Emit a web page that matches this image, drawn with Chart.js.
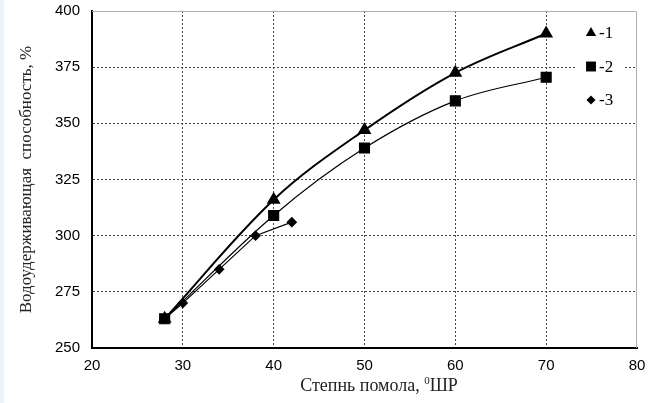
<!DOCTYPE html>
<html>
<head>
<meta charset="utf-8">
<script src="https://cdn.jsdelivr.net/npm/chart.js@4"></script>
<style>
  html, body { margin: 0; padding: 0; background: #fff; }
  canvas { display: block; background: linear-gradient(to right, #eef4fb 4px, #fff 4px); }
</style>
</head>
<body>
<canvas id="c" width="650" height="403"></canvas>
<script>
// степень помола, °ШР
const x1 = [28, 40, 50, 60, 70];
const y1 = [263, 316, 347, 372.5, 390];
const x2 = [28, 40, 50, 60, 70];
const y2 = [263, 309, 339, 360, 370.5];
const x3 = [28, 30, 34, 38, 42];
const y3 = [263, 270, 285, 300, 306];
const legendLabels = ["-1", "-2", "-3"];

const SERIF = "'Liberation Serif', 'Times New Roman', serif";
const SANS = "'Liberation Sans', Arial, sans-serif";

const pts = (xs, ys) => xs.map((x, i) => ({ x, y: ys[i] }));

// рамка сверху/справа, подпись оси X и легенда внутри области графика
const framePlugin = {
  id: "frame",
  beforeDatasetsDraw(chart) {
    const { ctx, chartArea: a } = chart;
    ctx.save();
    ctx.strokeStyle = "#b0b0b0";
    ctx.lineWidth = 1;
    ctx.beginPath();
    ctx.moveTo(a.left, a.top + 0.5);
    ctx.lineTo(a.right - 0.5, a.top + 0.5);
    ctx.lineTo(a.right - 0.5, a.bottom);
    ctx.stroke();
    // фон легенды
    ctx.fillStyle = "#fff";
    ctx.fillRect(a.right - 62, a.top + 8, 50, 104);
    ctx.restore();
  },
  afterDraw(chart) {
    const { ctx, chartArea: a } = chart;
    ctx.save();
    ctx.font = "17px " + SERIF;
    ctx.fillStyle = "#000";
    ctx.textBaseline = "middle";
    chart.data.datasets.forEach((ds, i) => {
      const y = a.top + 22 + i * 33.5;
      const x = a.right - 46;
      Chart.helpers.drawPoint(ctx, {
        pointStyle: ds.pointStyle, radius: ds.pointRadius, borderWidth: 0,
      }, x, y);
      ctx.fillText(legendLabels[i], x + 8, y + 1);
    });

    // Степнь помола, ⁰ШР
    const parts = ["Степнь помола, ", "0", "ШР"];
    const big = "18px " + SERIF, small = "11px " + SERIF;
    ctx.font = big; const w0 = ctx.measureText(parts[0]).width;
    const w2 = ctx.measureText(parts[2]).width;
    ctx.font = small; const w1 = ctx.measureText(parts[1]).width;
    let x = 379 - (w0 + w1 + w2) / 2;
    const yb = 391;
    ctx.textBaseline = "alphabetic";
    ctx.fillStyle = "#222";
    ctx.font = big; ctx.fillText(parts[0], x, yb); x += w0;
    ctx.font = small; ctx.fillText(parts[1], x, yb - 7); x += w1;
    ctx.font = big; ctx.fillText(parts[2], x, yb);
    ctx.restore();
  },
};

new Chart(document.getElementById("c"), {
  type: "line",
  data: {
    datasets: [
      {
        data: pts(x1, y1), pointStyle: "triangle", pointRadius: 6,
        borderColor: "#000", backgroundColor: "#000", borderWidth: 2,
        tension: 0.35, order: 3,
      },
      {
        data: pts(x2, y2), pointStyle: "rect", pointRadius: 7,
        borderColor: "#000", backgroundColor: "#000", borderWidth: 1.2,
        tension: 0.35, order: 1,
      },
      {
        data: pts(x3, y3), pointStyle: "rectRot", pointRadius: 4.5,
        borderColor: "#000", backgroundColor: "#000", borderWidth: 1.2,
        tension: 0, order: 2,
      },
    ],
  },
  options: {
    responsive: false, animation: false,
    layout: { padding: { top: 11, right: 13, left: 0, bottom: 0 } },
    elements: { point: { borderWidth: 0, hoverRadius: 6 } },
    scales: {
      x: {
        type: "linear", min: 20, max: 80,
        ticks: { stepSize: 10, color: "#000", font: { family: SANS, size: 15 }, padding: 9 },
        grid: { drawTicks: false, color: (c) => (c.tick.value === 80 ? "rgba(0,0,0,0)" : "#444"), lineWidth: 1 },
        border: { color: "#000", width: 2, dash: [2, 2] },
        afterFit: (s) => { s.height = 55; s.paddingLeft = 0; s.paddingRight = 0; },
      },
      y: {
        min: 250, max: 400,
        ticks: { stepSize: 25, color: "#000", font: { family: SANS, size: 15 }, padding: 12 },
        grid: { drawTicks: false, color: (c) => (c.tick.value === 400 ? "rgba(0,0,0,0)" : "#444"), lineWidth: 1 },
        border: { color: "#000", width: 2, dash: [2, 2] },
        title: { display: true, text: "Водоудерживающая  способность, %", color: "#222", font: { family: SERIF, size: 17 }, padding: { top: 16, bottom: 0 } },
        afterFit: (s) => { s.width = 92; s.paddingTop = 0; s.paddingBottom = 0; },
      },
    },
    plugins: { legend: { display: false }, tooltip: { enabled: false } },
  },
  plugins: [framePlugin],
});
</script>
</body>
</html>
